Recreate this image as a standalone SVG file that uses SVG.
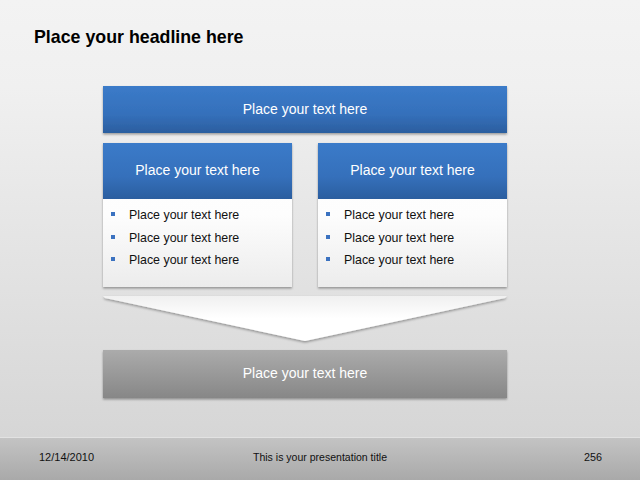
<svg xmlns="http://www.w3.org/2000/svg" width="640" height="480" viewBox="0 0 640 480">
<defs>
<linearGradient id="bg" x1="0" y1="0" x2="0" y2="1">
<stop offset="0" stop-color="#f3f3f3"/><stop offset="0.2" stop-color="#f0f0f0"/><stop offset="1" stop-color="#d6d6d6"/>
</linearGradient>
<linearGradient id="foot" x1="0" y1="0" x2="0" y2="1">
<stop offset="0" stop-color="#c4c4c4"/><stop offset="1" stop-color="#a9a9a9"/>
</linearGradient>
<linearGradient id="blue" x1="0" y1="0" x2="0" y2="1">
<stop offset="0" stop-color="#3b7bc9"/><stop offset="0.6" stop-color="#3570bb"/><stop offset="1" stop-color="#2b5e9f"/>
</linearGradient>
<linearGradient id="gray" x1="0" y1="0" x2="0" y2="1">
<stop offset="0" stop-color="#ababab"/><stop offset="1" stop-color="#878787"/>
</linearGradient>
<linearGradient id="body" x1="0" y1="0" x2="0" y2="1">
<stop offset="0" stop-color="#ffffff"/><stop offset="0.5" stop-color="#fdfdfd"/><stop offset="1" stop-color="#ececec"/>
</linearGradient>
<linearGradient id="funnel" x1="0" y1="0" x2="0" y2="1">
<stop offset="0" stop-color="#f0f0f0"/><stop offset="0.5" stop-color="#ffffff"/><stop offset="1" stop-color="#ffffff"/>
</linearGradient>
<filter id="sh" x="-5%" y="-10%" width="110%" height="130%">
<feDropShadow dx="0" dy="1.5" stdDeviation="1.2" flood-color="#000" flood-opacity="0.35"/>
</filter>
</defs>
<style>
.w{font-family:"Liberation Sans",Arial,sans-serif;font-size:14px;fill:#ffffff;text-anchor:middle}
.b{font-family:"Liberation Sans",Arial,sans-serif;font-size:12.4px;fill:#111111}
.f{font-family:"Liberation Sans",Arial,sans-serif;font-size:11.5px;fill:#111111}
.bul{fill:#3b72c0}
</style>
<rect x="0" y="0" width="640" height="437" fill="url(#bg)"/>
<rect x="0" y="437" width="640" height="43" fill="url(#foot)"/>
<line x1="0" y1="437.5" x2="640" y2="437.5" stroke="#e2e2e2" stroke-width="1"/>
<text x="34" y="43" font-family="Liberation Sans,Arial,sans-serif" font-size="17.8" font-weight="bold" fill="#000">Place your headline here</text>

<g id="top">
<rect x="103" y="86" width="404" height="47" fill="url(#blue)" filter="url(#sh)"/>
<text class="w" x="305" y="114">Place your text here</text>
</g>

<g id="left">
<rect x="103" y="143" width="189" height="144" fill="url(#body)" filter="url(#sh)"/>
<rect x="103" y="143" width="189" height="56" fill="url(#blue)"/>
<text class="w" x="197.5" y="175">Place your text here</text>
<rect class="bul" x="111" y="212" width="4" height="4"/>
<rect class="bul" x="111" y="235" width="4" height="4"/>
<rect class="bul" x="111" y="257" width="4" height="4"/>
<text class="b" x="129" y="219">Place your text here</text>
<text class="b" x="129" y="242">Place your text here</text>
<text class="b" x="129" y="264">Place your text here</text>
</g>

<g id="right">
<rect x="318" y="143" width="189" height="144" fill="url(#body)" filter="url(#sh)"/>
<rect x="318" y="143" width="189" height="56" fill="url(#blue)"/>
<text class="w" x="412.5" y="175">Place your text here</text>
<rect class="bul" x="326" y="212" width="4" height="4"/>
<rect class="bul" x="326" y="235" width="4" height="4"/>
<rect class="bul" x="326" y="257" width="4" height="4"/>
<text class="b" x="344" y="219">Place your text here</text>
<text class="b" x="344" y="242">Place your text here</text>
<text class="b" x="344" y="264">Place your text here</text>
</g>

<g id="connectors">
<path d="M103 296 L507 296 L505 298 L305 341 L105 298 Z" fill="url(#funnel)" filter="url(#sh)"/>
</g>

<g id="bottom">
<rect x="103" y="350" width="404" height="48" fill="url(#gray)" filter="url(#sh)"/>
<text class="w" x="305" y="378">Place your text here</text>
</g>

<text class="f" x="39" y="461" textLength="55" lengthAdjust="spacingAndGlyphs">12/14/2010</text>
<text class="f" x="253" y="461" textLength="134" lengthAdjust="spacingAndGlyphs">This is your presentation title</text>
<text class="f" x="584" y="461" textLength="18" lengthAdjust="spacingAndGlyphs">256</text>
</svg>
